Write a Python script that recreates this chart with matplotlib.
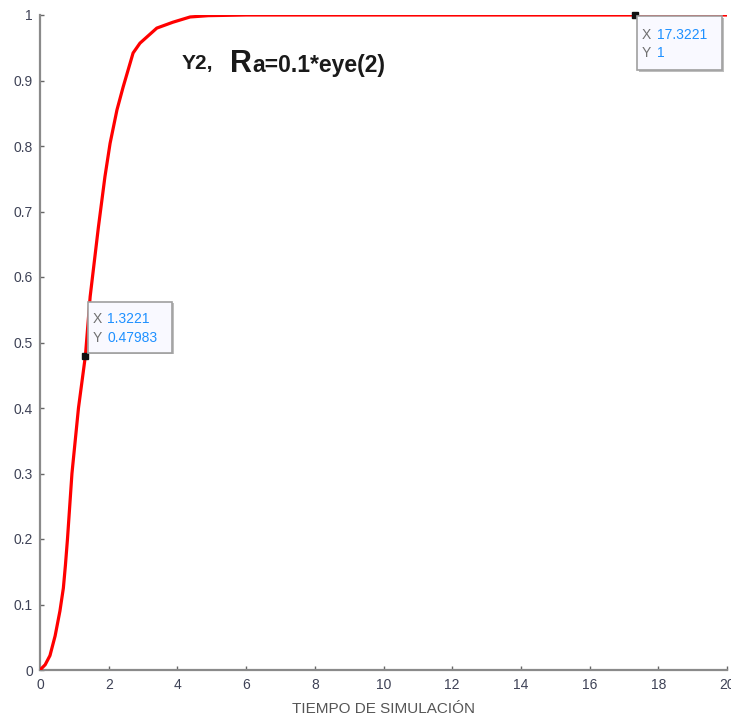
import matplotlib
matplotlib.use("Agg")
import matplotlib.pyplot as plt
import matplotlib.transforms as mtransforms
from matplotlib.patches import Rectangle

# ---- data ----
t_vals = [0, 0.15, 0.29, 0.44, 0.58, 0.68, 0.74, 0.80, 0.93, 1.12, 1.3221, 1.46, 1.70, 1.89,
          2.04, 2.24, 2.42, 2.71, 2.91, 3.40, 3.87, 4.37, 4.9, 6, 8, 10, 12, 14, 17.3221, 20]
y_vals = [0, 0.008, 0.022, 0.052, 0.09, 0.125, 0.16, 0.20, 0.30, 0.40, 0.47983, 0.57, 0.676,
          0.753, 0.804, 0.855, 0.89, 0.942, 0.957, 0.980, 0.989, 0.997, 0.999, 1.0, 1.0, 1.0,
          1.0, 1.0, 1.0, 1.0]
tip_points = [(1.3221, 0.47983), (17.3221, 1.0)]
tip_labels = [("1.3221", "0.47983"), ("17.3221", "1")]
x_ticks = [0, 2, 4, 6, 8, 10, 12, 14, 16, 18, 20]
y_ticks = [0, 0.1, 0.2, 0.3, 0.4, 0.5, 0.6, 0.7, 0.8, 0.9, 1]
y_ticklabels = ["0", "0.1", "0.2", "0.3", "0.4", "0.5", "0.6", "0.7", "0.8", "0.9", "1"]
x_label = "TIEMPO DE SIMULACIÓN"

plt.rcParams['font.family'] = ['Liberation Sans', 'DejaVu Sans']

W, H = 731, 720
fig = plt.figure(figsize=(W / 100, H / 100), dpi=100)
ax = fig.add_axes([40 / W, 50 / H, 687 / W, 655 / H])
ax.set_xlim(0, 20)
ax.set_ylim(0, 1)

ax.plot(t_vals, y_vals, color='#ff0000', lw=2.3, solid_capstyle='round',
        solid_joinstyle='round', zorder=3)

for s in ['top', 'right']:
    ax.spines[s].set_visible(False)
for s in ['left', 'bottom']:
    ax.spines[s].set_color('#8a8a8a')
    ax.spines[s].set_linewidth(1.6)

ax.set_xticks(x_ticks)
ax.set_xticklabels([str(v) for v in x_ticks])
ax.set_yticks(y_ticks)
ax.set_yticklabels(y_ticklabels)
ax.tick_params(direction='in', length=3, width=1, color='#666666',
               labelcolor='#3e4256', labelsize=10)
ax.tick_params(axis='x', pad=6)
ax.tick_params(axis='y', pad=5)
ax.set_xlabel(x_label, fontsize=11, color='#555555', labelpad=7)

# title inside plot
ax.text(4.13, 0.918, "Y2,", fontsize=15, fontweight='bold', color='#1a1a1a',
        va='baseline', ha='left')
ax.text(5.53, 0.913, "R", fontsize=22, fontweight='bold', color='#1a1a1a',
        va='baseline', ha='left')
ax.text(6.17, 0.913, "a=0.1*eye(2)", fontsize=16.5, fontweight='bold', color='#1a1a1a',
        va='baseline', ha='left')

# data tips
box_specs = [
    # (box x0, y0, w, h, label x, value x, X line dy, Y line dy) in pixels relative to point
    (3, 3, 84, 51, 7, 22, 37, 18),
    (2, -55, 85, 54, 7, 22, -20, -38),
]
for (pt, (xv, yv), spec) in zip(tip_points, tip_labels, box_specs):
    px, py = ax.transData.transform(pt)
    tr = mtransforms.Affine2D().translate(px, py)
    bx, by, bw, bh, lx, vx, dyx, dyy = spec
    shadow = Rectangle((bx + 1.5, by - 1.5), bw, bh, transform=tr, facecolor='#bdbdbd',
                       edgecolor='none', zorder=4, clip_on=False)
    box = Rectangle((bx, by), bw, bh, transform=tr, facecolor='#f9f9ff',
                    edgecolor='#a0a0a0', lw=1.2, zorder=5, clip_on=False)
    fig.add_artist(shadow)
    fig.add_artist(box)
    for lab, val, dy in (("X", xv, dyx), ("Y", yv, dyy)):
        fig.text(lx, dy, lab, transform=tr, fontsize=10, color='#707070',
                 va='center', ha='left', zorder=6)
        fig.text(vx, dy, val, transform=tr, fontsize=10, color='#1e90ff',
                 va='center', ha='left', zorder=6)
    ax.plot([pt[0]], [pt[1]], marker='s', ms=4, color='#111111', zorder=6, clip_on=False)

fig.savefig("out.png", dpi=100)
